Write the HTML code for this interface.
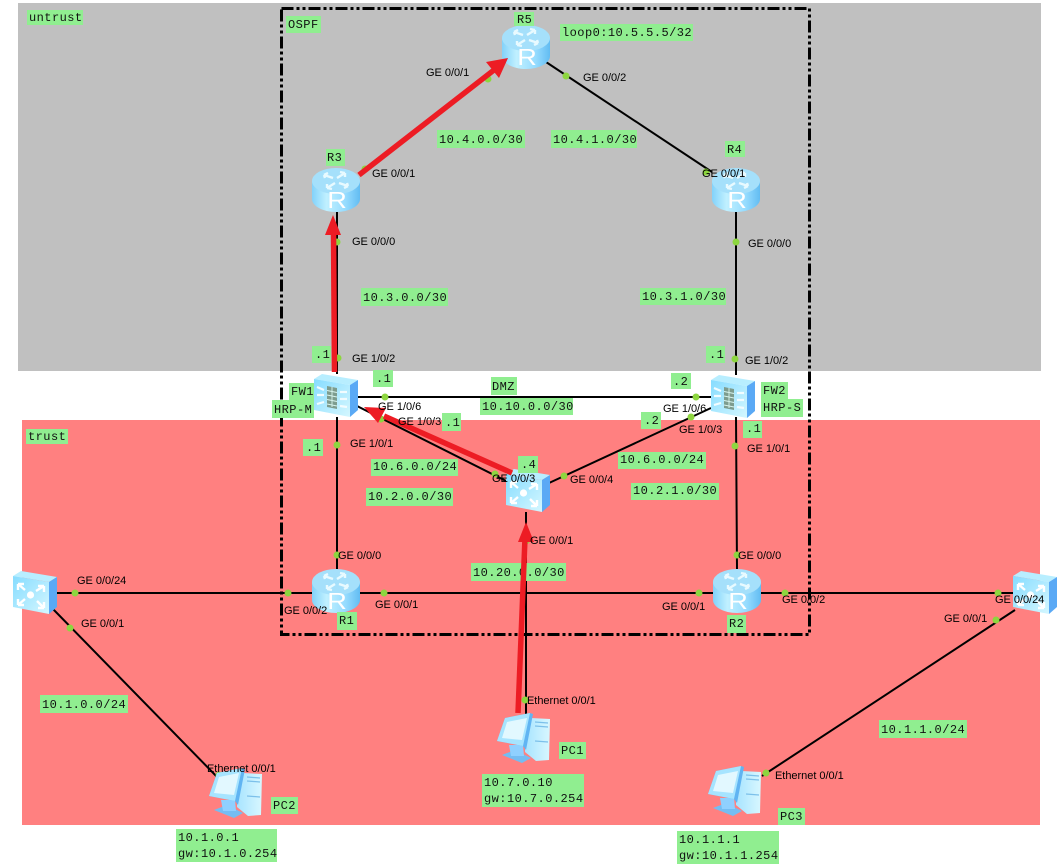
<!DOCTYPE html>
<html>
<head>
<meta charset="utf-8">
<style>
html,body{margin:0;padding:0;background:#fff;width:1061px;height:867px;overflow:hidden}
svg{display:block}
.g{fill:#90ee90}
.m{font:12px "Liberation Mono",monospace;fill:#111;letter-spacing:.45px}
.i{font:11px "Liberation Sans",sans-serif;fill:#000;letter-spacing:-.03px}
.l{stroke:#000;stroke-width:2;fill:none}
.r{stroke:#ed1c24;stroke-width:5.500;fill:none}
.a{fill:#ed1c24}
.d{fill:#8dd63f}
</style>
</head>
<body>
<svg width="1061" height="867" viewBox="0 0 1061 867" xmlns="http://www.w3.org/2000/svg">
<defs>
<linearGradient id="cy" x1="0" x2="1" y1="0" y2="0">
<stop offset="0" stop-color="#82d2fa"/><stop offset=".3" stop-color="#c0f0ff"/><stop offset=".7" stop-color="#96dcff"/><stop offset="1" stop-color="#62bcf2"/>
</linearGradient>
<linearGradient id="fc" x1="0" x2="1" y1="0" y2="1">
<stop offset="0" stop-color="#86dcff"/><stop offset="1" stop-color="#d4f7ff"/>
</linearGradient>
<linearGradient id="tw" x1="0" x2="1" y1="0" y2="0">
<stop offset="0" stop-color="#a8e4ff"/><stop offset="1" stop-color="#d8f7ff"/>
</linearGradient>
<symbol id="router" viewBox="0 0 48 44" overflow="visible">
<path d="M0 13V31C0 38 11 44 24 44S48 38 48 31V13Z" fill="url(#cy)"/>
<ellipse cx="24" cy="13" rx="24" ry="13" fill="#a5e0fb"/>
<g stroke="#e8faff" stroke-width="2.400" fill="none">
<path d="M12 7l9 3M12 7l4-2M12 7l1 3M36 18l-9-3M36 18l-4 2M36 18l-1-3M33 5l-8 5M33 5l-5-1M33 5l0 4M15 20l8-5M15 20l5 1M15 20l0-4"/>
</g>
<text transform="translate(25 40) scale(1.180 1)" text-anchor="middle" font-family="Liberation Sans" font-size="23" fill="#fff">R</text>
</symbol>
<symbol id="fw" viewBox="0 0 44 43" overflow="visible">
<path d="M0 5L8 0L44 6L36 11Z" fill="#b8eeff"/>
<path d="M36 11L44 6V36L36 43Z" fill="#5aa9f5"/>
<path d="M0 5L36 11V43L0 36Z" fill="url(#fc)"/>
<path d="M13 12l10 2V35l-10-2Z" fill="#7d9c8e"/>
<path d="M13 16.500l10 2M13 21l10 2M13 25.500l10 2M13 30l10 2M18 13v20" stroke="#d8f4ee" stroke-width=".9"/>
<path d="M3 13l7 3M3 21h7M3 30l7-2M26 18h7M26 25h7M26 32l7 1" stroke="#f2fcff" stroke-width="2.200"/>
</symbol>
<symbol id="sw" viewBox="0 0 44 43" overflow="visible">
<path d="M0 5L8 0L44 6L36 11Z" fill="#b8eeff"/>
<path d="M36 11L44 6V36L36 43Z" fill="#5aa9f5"/>
<path d="M0 5L36 11V43L0 36Z" fill="url(#fc)"/>
<circle cx="17.500" cy="24" r="3.600" fill="#fff"/>
<path d="M5 13l7 6M5 13h6M5 13v6M31 15l-8 5M31 15h-6M31 15v6M5 34l7-6M5 34h6M5 34v-6M31 37l-7-7M31 37h-6M31 37v-6" stroke="#fff" stroke-width="2.400" fill="none"/>
</symbol>
<symbol id="pc" viewBox="0 0 53 48" overflow="visible">
<path d="M27 8L33 3L52 4L51 45L38 46L27 37Z" fill="url(#tw)"/>
<path d="M37 7l13 1M37 11l13 1M37 26l13 1" stroke="#7cc0ea" stroke-width="1.200"/>
<path d="M4 40L17 35L33 43L24 48Z" fill="#74bdf2"/>
<path d="M11 30L25 30L26 41L13 41Z" fill="#8fd0ff"/>
<path d="M7 3L32 -2L35 -1L28 35L25 31L-1 26Z" fill="#60b4f2"/>
<path d="M7 3L32 -2L25 31L-1 26Z" fill="#a6e4ff"/>
<path d="M9 7L29 3L24 25L4 23Z" fill="#e2f8ff"/>
</symbol>
</defs>

<rect x="18" y="3" width="1023" height="368" fill="#c0c0c0"/>
<rect x="22" y="420" width="1018" height="405" fill="#ff8080"/>
<rect x="281.500" y="8.500" width="528" height="626" fill="none" stroke="#000" stroke-width="3" stroke-dasharray="12 3 3 3 3 3"/>

<path class="l" d="M360 176L508 60M546 62L712 172M337 212V374M736 212V375M357 397H711M357 406L510 483M711 408L549 483M337 417V569M736 417L737 569M526 512V715M57 593H1013M52 608L222 782M1015 610L762 776"/>

<g class="d">
<circle cx="488" cy="79" r="3.500"/><circle cx="566" cy="76" r="3.500"/><circle cx="365" cy="169" r="3.500"/>
<circle cx="706" cy="172" r="3.500"/><circle cx="337" cy="242" r="3.500"/><circle cx="736" cy="242" r="3.500"/>
<circle cx="338" cy="358" r="3.500"/><circle cx="735" cy="359" r="3.500"/><circle cx="385" cy="397" r="3.500"/>
<circle cx="381" cy="419" r="3.500"/><circle cx="337" cy="445" r="3.500"/><circle cx="495" cy="474" r="3.500"/>
<circle cx="564" cy="476" r="3.500"/><circle cx="696" cy="397" r="3.500"/><circle cx="691" cy="417" r="3.500"/>
<circle cx="735" cy="446" r="3.500"/><circle cx="526" cy="541" r="3.500"/><circle cx="337" cy="555" r="3.500"/>
<circle cx="737" cy="555" r="3.500"/><circle cx="75" cy="593" r="3.500"/><circle cx="70" cy="628" r="3.500"/>
<circle cx="288" cy="593" r="3.500"/><circle cx="384" cy="593" r="3.500"/><circle cx="699" cy="593" r="3.500"/>
<circle cx="785" cy="593" r="3.500"/><circle cx="998" cy="593" r="3.500"/><circle cx="996" cy="620" r="3.500"/>
<circle cx="525" cy="700" r="3.500"/><circle cx="766" cy="773" r="3.500"/><circle cx="219" cy="775" r="3.500"/>
</g>

<use href="#router" x="502" y="25" width="48" height="44"/>
<use href="#router" x="312" y="168" width="48" height="44"/>
<use href="#router" x="712" y="168" width="48" height="44"/>
<use href="#router" x="312" y="569" width="48" height="44"/>
<use href="#router" x="713" y="569" width="48" height="44"/>
<use href="#fw" x="314" y="374" width="44" height="43"/>
<use href="#fw" x="711" y="375" width="44" height="43"/>
<use href="#sw" x="506" y="469" width="44" height="43"/>
<use href="#sw" x="13" y="571" width="44" height="43"/>
<use href="#sw" x="1013" y="571" width="44" height="43"/>
<use href="#pc" x="498" y="715" width="53" height="48"/>
<use href="#pc" x="210" y="770" width="53" height="48"/>
<use href="#pc" x="709" y="768" width="53" height="48"/>

<g class="g">
<rect x="27" y="10" width="56" height="15"/><rect x="26" y="429" width="42" height="15"/><rect x="286" y="16" width="35" height="17"/>
<rect x="514" y="12" width="20" height="14"/><rect x="560" y="24" width="133" height="17"/><rect x="326" y="149" width="19" height="17"/>
<rect x="725" y="141" width="20" height="16"/><rect x="437" y="130" width="88" height="18"/><rect x="551" y="130" width="86" height="18"/>
<rect x="361" y="288" width="87" height="18"/><rect x="640" y="288" width="86" height="17"/><rect x="312" y="346" width="19" height="17"/>
<rect x="373" y="370" width="20" height="17"/><rect x="491" y="377" width="26" height="18"/><rect x="480" y="398" width="93" height="17"/>
<rect x="289" y="383" width="25" height="17"/><rect x="272" y="400" width="42" height="18"/><rect x="442" y="413" width="19" height="18"/>
<rect x="303" y="439" width="20" height="17"/><rect x="371" y="459" width="87" height="17"/><rect x="366" y="488" width="87" height="18"/>
<rect x="518" y="456" width="20" height="17"/><rect x="706" y="346" width="19" height="17"/><rect x="671" y="373" width="20" height="16"/>
<rect x="641" y="412" width="20" height="17"/><rect x="761" y="382" width="27" height="17"/><rect x="761" y="399" width="42" height="18"/>
<rect x="743" y="421" width="19" height="17"/><rect x="618" y="452" width="88" height="17"/><rect x="631" y="483" width="88" height="17"/>
<rect x="471" y="563" width="95" height="18"/><rect x="337" y="612" width="20" height="18"/><rect x="727" y="615" width="19" height="18"/>
<rect x="40" y="695" width="88" height="18"/><rect x="879" y="720" width="88" height="18"/><rect x="559" y="742" width="27" height="17"/>
<rect x="482" y="774" width="102" height="33"/><rect x="271" y="797" width="27" height="17"/><rect x="176" y="829" width="101" height="33"/>
<rect x="778" y="808" width="27" height="17"/><rect x="677" y="831" width="102" height="33"/>
</g>

<g class="m">
<text x="29" y="21">untrust</text><text x="28" y="440">trust</text><text x="288" y="28">OSPF</text>
<text x="517" y="23">R5</text><text x="562" y="36">loop0:10.5.5.5/32</text><text x="327" y="161">R3</text><text x="727" y="153">R4</text>
<text x="439" y="143">10.4.0.0/30</text><text x="553" y="143">10.4.1.0/30</text><text x="363" y="301">10.3.0.0/30</text><text x="642" y="300">10.3.1.0/30</text>
<text x="315" y="358">.1</text><text x="376" y="382">.1</text><text x="492" y="390">DMZ</text><text x="482" y="410">10.10.0.0/30</text>
<text x="291" y="395">FW1</text><text x="274" y="413">HRP-M</text><text x="445" y="426">.1</text><text x="306" y="451">.1</text>
<text x="373" y="470">10.6.0.0/24</text><text x="368" y="500">10.2.0.0/30</text><text x="521" y="468">.4</text>
<text x="709" y="358">.1</text><text x="673" y="385">.2</text><text x="644" y="424">.2</text><text x="763" y="394">FW2</text><text x="763" y="411">HRP-S</text>
<text x="746" y="432">.1</text><text x="620" y="463">10.6.0.0/24</text><text x="633" y="494">10.2.1.0/30</text><text x="473" y="576">10.20.0.0/30</text>
<text x="339" y="624">R1</text><text x="729" y="627">R2</text><text x="42" y="708">10.1.0.0/24</text><text x="881" y="733">10.1.1.0/24</text>
<text x="561" y="754">PC1</text><text x="484" y="786">10.7.0.10</text><text x="484" y="802">gw:10.7.0.254</text>
<text x="273" y="809">PC2</text><text x="178" y="841">10.1.0.1</text><text x="178" y="857">gw:10.1.0.254</text>
<text x="780" y="820">PC3</text><text x="679" y="843">10.1.1.1</text><text x="679" y="859">gw:10.1.1.254</text>
</g>

<path class="r" d="M359 175L494 70"/><path class="a" d="M508 58L499 78L486 62Z"/>
<path class="r" d="M334.500 372L333.500 232"/><path class="a" d="M333 215L341 235H325Z"/>
<path class="r" d="M512 473L384 416"/><path class="a" d="M364 407L386 408L378 423Z"/>
<path class="r" d="M518 713L525 538"/><path class="a" d="M526 522L534 542H518Z"/>

<g class="i">
<text x="426" y="76">GE 0/0/1</text><text x="583" y="81">GE 0/0/2</text><text x="372" y="177">GE 0/0/1</text><text x="702" y="177">GE 0/0/1</text>
<text x="352" y="245">GE 0/0/0</text><text x="748" y="247">GE 0/0/0</text><text x="352" y="362">GE 1/0/2</text><text x="745" y="364">GE 1/0/2</text>
<text x="378" y="410">GE 1/0/6</text><text x="398" y="425">GE 1/0/3</text><text x="350" y="447">GE 1/0/1</text><text x="492" y="482">GE 0/0/3</text>
<text x="570" y="483">GE 0/0/4</text><text x="663" y="412">GE 1/0/6</text><text x="679" y="433">GE 1/0/3</text><text x="747" y="452">GE 1/0/1</text>
<text x="530" y="544">GE 0/0/1</text><text x="338" y="559">GE 0/0/0</text><text x="738" y="559">GE 0/0/0</text><text x="77" y="584">GE 0/0/24</text>
<text x="81" y="627">GE 0/0/1</text><text x="284" y="614">GE 0/0/2</text><text x="375" y="608">GE 0/0/1</text><text x="662" y="610">GE 0/0/1</text>
<text x="782" y="603">GE 0/0/2</text><text x="995" y="603">GE 0/0/24</text><text x="944" y="622">GE 0/0/1</text>
<text x="527" y="704">Ethernet 0/0/1</text><text x="207" y="772">Ethernet 0/0/1</text><text x="775" y="779">Ethernet 0/0/1</text>
</g>
</svg>
</body>
</html>
